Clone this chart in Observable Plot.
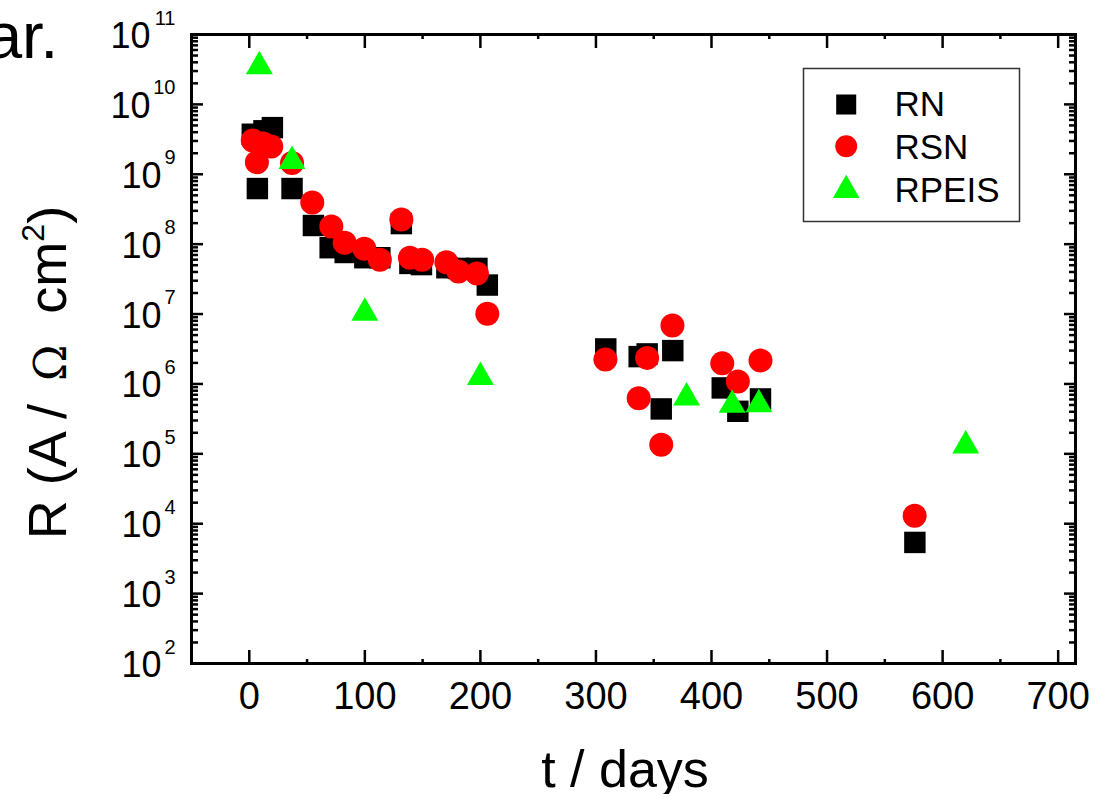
<!DOCTYPE html>
<html>
<head>
<meta charset="utf-8">
<script src="https://cdn.jsdelivr.net/npm/d3@7"></script>
<script src="https://cdn.jsdelivr.net/npm/@observablehq/plot@0.6"></script>
<style>
  html, body { margin: 0; padding: 0; background: #ffffff; }
  #chart svg { display: block; }
</style>
</head>
<body>
<div id="chart"></div>
<script>
// ---- data ----
const rnT = [2.6, 12.7, 20, 7, 37, 55.5, 70, 83, 100, 113, 131.6, 139, 149, 171, 181, 197, 206,
             308.5, 337.4, 344.3, 366.5, 356.5, 409.3, 422.8, 442.4, 576];
const rnR = [3.74e9, 4.19e9, 4.65e9, 6.25e8, 6.25e8, 1.85e8, 8.9e7, 7.6e7, 6.4e7, 6.4e7, 1.97e8, 5.3e7, 5.1e7, 4.6e7, 4.5e7, 4.5e7, 2.6e7,
             3.17e6, 2.46e6, 2.69e6, 3.0e6, 4.39e5, 8.77e5, 4.06e5, 6.1e5, 5.4e3];

const rsnT = [3, 6.6, 12, 19, 37, 54.5, 71, 82.5, 99.6, 113, 131.6, 139, 149.6, 170.6, 181, 197, 206,
              308.2, 337, 344.3, 356.5, 366.2, 409.3, 422.8, 442.4, 575.8];
const rsnR = [3.04e9, 1.49e9, 2.75e9, 2.5e9, 1.45e9, 3.95e8, 1.79e8, 1.05e8, 8.6e7, 6.0e7, 2.25e8, 6.4e7, 6.0e7, 5.5e7, 4.05e7, 3.8e7, 1.01e7,
              2.23e6, 6.22e5, 2.36e6, 1.35e5, 6.84e6, 1.97e6, 1.08e6, 2.16e6, 1.30e4];

const rpeisT = [8.7, 37, 100, 200, 378.4, 417.9, 441, 620];
const rpeisR = [3.5e10, 1.54e9, 1.04e7, 1.25e6, 6.37e5, 5.0e5, 5.1e5, 1.31e5];

const xTicks = [0, 100, 200, 300, 400, 500, 600, 700];
const xMinorTicks = [50, 150, 250, 350, 450, 550, 650];
const yExponents = [2, 3, 4, 5, 6, 7, 8, 9, 10, 11];
const yMinorMultipliers = [2, 3, 4, 5, 6, 7, 8, 9];

const legendNames = ["RN", "RSN", "RPEIS"];
const xLabel = "t / days";
const yLabel = "R (A / \u03A9 cm\u00B2)";
const cornerText = "ar.";

// ---- derived tables ----
const toRows = (T, R) => T.map((t, i) => ({t, r: R[i]}));
const rnRows = toRows(rnT, rnR);
const rsnRows = toRows(rsnT, rsnR);
const rpeisRows = toRows(rpeisT, rpeisR);
const yMajor = yExponents.map(e => 10 ** e);
const yMinor = yExponents.slice(0, -1).flatMap(e => yMinorMultipliers.map(m => m * 10 ** e));

// ---- styles ----
const W = 1095, H = 794;
const margins = {marginLeft: 191, marginTop: 34, marginRight: 20, marginBottom: 131};
const colors = {RN: "#000000", RSN: "#ff0000", RPEIS: "#00ff00"};
const symbols = {RN: "square", RSN: "circle", RPEIS: "triangle"};
const radii = {RN: 12.1, RSN: 12, RPEIS: 10};
const legendRadii = {RN: 11.3, RSN: 11, RPEIS: 9.9};
const legendSymbolDy = [70, 111.7, 155.7];
const legendTextDy = [81, 124, 167.7];
const tk = {tickFormat: () => "", label: null, strokeWidth: 2.5};

const marks = [
  Plot.frame({strokeWidth: 3}),
  Plot.axisY(yMajor, {anchor: "left", tickSize: -12, ...tk}),
  Plot.axisY(yMinor, {anchor: "left", tickSize: -7, ...tk}),
  Plot.axisY(yMajor, {anchor: "right", tickSize: -12, ...tk}),
  Plot.axisY(yMinor, {anchor: "right", tickSize: -7, ...tk}),
  Plot.axisX(xTicks, {anchor: "bottom", tickSize: -13, ...tk}),
  Plot.axisX(xMinorTicks, {anchor: "bottom", tickSize: -4, ...tk}),
  Plot.axisX(xTicks, {anchor: "top", tickSize: -13, ...tk}),
  Plot.axisX(xMinorTicks, {anchor: "top", tickSize: -4, ...tk}),

  // x tick labels
  Plot.text(xTicks, {x: d => d, text: d => String(d), frameAnchor: "bottom", lineAnchor: "bottom", dy: 45, fontSize: 38}),
  // y tick labels: "10" + superscript exponent
  Plot.text(yExponents, {filter: e => e < 10, y: e => 10 ** e, text: () => "10", frameAnchor: "left", textAnchor: "end", lineAnchor: "bottom", dx: -30, dy: 13.5, fontSize: 36}),
  Plot.text(yExponents, {filter: e => e >= 10, y: e => 10 ** e, text: () => "10", frameAnchor: "left", textAnchor: "end", lineAnchor: "bottom", dx: -41, dy: 13.5, fontSize: 36}),
  Plot.text(yExponents, {y: e => 10 ** e, text: e => String(e), frameAnchor: "left", textAnchor: "end", lineAnchor: "bottom", dx: -16, dy: -10, fontSize: 20}),

  // axis titles
  Plot.text([xLabel], {text: d => d, frameAnchor: "bottom", dx: -8.5, dy: 123.7, lineAnchor: "bottom", fontSize: 52}),
  Plot.text([yLabel], {text: d => d, frameAnchor: "left", rotate: -90, dx: -126, dy: 23.5, textAnchor: "middle", lineAnchor: "bottom", fontSize: 54}),
  Plot.text([cornerText], {text: d => d, frameAnchor: "top-left", dx: -133.3, dy: 23, textAnchor: "end", lineAnchor: "bottom", fontSize: 65}),

  // data
  Plot.dot(rnRows, {x: "t", y: "r", symbol: symbols.RN, r: radii.RN, fill: colors.RN}),
  Plot.dot(rsnRows, {x: "t", y: "r", symbol: symbols.RSN, r: radii.RSN, fill: colors.RSN}),
  Plot.dot(rpeisRows, {x: "t", y: "r", symbol: symbols.RPEIS, r: radii.RPEIS, fill: colors.RPEIS}),

  // legend box
  Plot.frame({insetLeft: 612, insetTop: 34, insetRight: 56, insetBottom: 442, stroke: "#333333", strokeWidth: 1.5})
];

legendNames.forEach((name, i) => {
  marks.push(
    Plot.dot([name], {frameAnchor: "top-left", dx: 654.7, dy: legendSymbolDy[i], symbol: symbols[name], r: legendRadii[name], fill: colors[name]}),
    Plot.text([name], {text: d => d, frameAnchor: "top-left", dx: 703, dy: legendTextDy[i], textAnchor: "start", lineAnchor: "bottom", fontSize: 35})
  );
});

const chart = Plot.plot({
  width: W,
  height: H,
  ...margins,
  x: {domain: [-50, 715]},
  y: {type: "log", domain: [1e2, 1e11]},
  style: {fontFamily: "'Liberation Sans', Arial, sans-serif", background: "#ffffff", color: "#000000", overflow: "visible"},
  marks
});
document.getElementById("chart").append(chart);

// typographic refinement of the y-axis title: serif Omega, wider gaps and a raised superscript 2
const yt = Array.from(chart.querySelectorAll("text")).find(t => t.textContent === yLabel);
if (yt) {
  const parts = [
    {s: "R (A / "},
    {s: "\u03A9", font: "'DejaVu Serif', 'Liberation Serif', serif", size: 44, dx: 8},
    {s: " cm", dx: 16},
    {s: "2", sup: true},
    {s: ")", after: true}
  ];
  const NS = "http://www.w3.org/2000/svg";
  yt.textContent = "";
  for (const p of parts) {
    const ts = document.createElementNS(NS, "tspan");
    ts.textContent = p.s;
    if (p.font) ts.setAttribute("font-family", p.font);
    if (p.size) ts.setAttribute("font-size", p.size);
    if (p.dx) ts.setAttribute("dx", p.dx);
    if (p.sup) { ts.setAttribute("font-size", "32"); ts.setAttribute("dy", "-22"); }
    if (p.after) ts.setAttribute("dy", "22");
    yt.appendChild(ts);
  }
}
</script>
</body>
</html>
